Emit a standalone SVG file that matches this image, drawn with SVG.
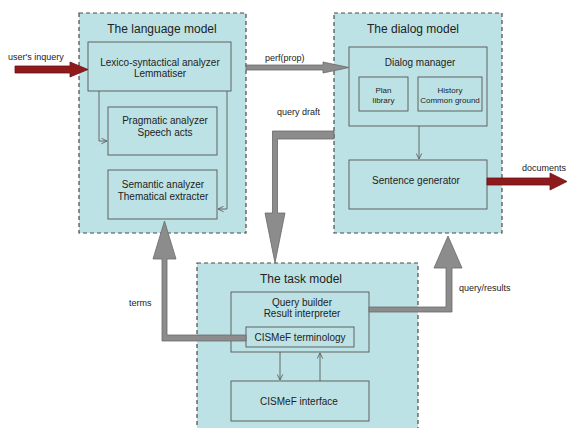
<svg xmlns="http://www.w3.org/2000/svg" width="569" height="428" viewBox="0 0 569 428">
<defs>
<style>
.model{fill:#bde2e5;stroke:#4a4a4a;stroke-width:1.2;stroke-dasharray:4 3}
.box{fill:#bde2e5;stroke:#555;stroke-width:0.9}
text{font-family:"Liberation Sans",Arial,sans-serif;fill:#222}
.title{font-size:12px;text-anchor:middle}
.lbl{font-size:10px;text-anchor:middle}
.sm{font-size:8px;text-anchor:middle}
.note{font-size:9px}
.thin{fill:none;stroke:#5a5a5a;stroke-width:0.9}
.gray{fill:#8c8c8c;stroke:#6a6a6a;stroke-width:0.8}
.red{fill:#8e1a1c;stroke:#6e1214;stroke-width:0.8}
</style>
<marker id="open" viewBox="0 0 10 10" refX="9" refY="5" markerWidth="7" markerHeight="7" orient="auto" markerUnits="userSpaceOnUse">
<path d="M1,1 L9,5 L1,9" fill="none" stroke="#5a5a5a" stroke-width="1.2"/>
</marker>
</defs>
<rect width="569" height="428" fill="#ffffff"/>

<g id="language-model">
<rect class="model" x="79" y="13" width="167" height="220"/>
<text class="title" x="162" y="33">The language model</text>
</g>
<g id="lexico">
<rect class="box" x="88" y="42" width="143" height="49"/>
<text class="lbl" x="160" y="65.5">Lexico-syntactical analyzer</text>
<text class="lbl" x="160" y="76.5">Lemmatiser</text>
</g>
<g id="pragmatic">
<rect class="box" x="108" y="107" width="109" height="48"/>
<text class="lbl" x="165" y="123.5">Pragmatic analyzer</text>
<text class="lbl" x="165" y="135.5">Speech acts</text>
</g>
<g id="semantic">
<rect class="box" x="108" y="170" width="109" height="49"/>
<text class="lbl" x="163" y="187.5">Semantic analyzer</text>
<text class="lbl" x="163" y="199.5">Thematical extracter</text>
</g>

<g id="dialog-model">
<rect class="model" x="334" y="13" width="168" height="220"/>
<text class="title" x="413" y="33">The dialog model</text>
</g>
<g id="dialog-manager">
<rect class="box" x="349" y="47" width="138" height="79"/>
<text class="lbl" x="420" y="65.5">Dialog manager</text>
</g>
<g id="plan-library">
<rect class="box" x="359" y="77" width="49" height="34"/>
<text class="sm" x="383.5" y="93">Plan</text>
<text class="sm" x="383.5" y="103">library</text>
</g>
<g id="history">
<rect class="box" x="418" y="77" width="64" height="34"/>
<text class="sm" x="450" y="93">History</text>
<text class="sm" x="450" y="103">Common ground</text>
</g>
<g id="sentence-generator">
<rect class="box" x="349" y="160" width="138" height="49"/>
<text class="lbl" x="416" y="183.5">Sentence generator</text>
</g>

<g id="task-model">
<rect class="model" x="197" y="263" width="221" height="175"/>
<text class="title" x="301" y="283">The task model</text>
</g>
<g id="query-builder">
<rect class="box" x="231" y="292" width="138" height="60"/>
<text class="lbl" x="302" y="305.5">Query builder</text>
<text class="lbl" x="302" y="316.5">Result interpreter</text>
</g>
<g id="cismef-terminology">
<rect class="box" x="246" y="327" width="108" height="20"/>
<text class="lbl" x="300" y="340.5">CISMeF terminology</text>
</g>
<g id="cismef-interface">
<rect class="box" x="231" y="381" width="138" height="40"/>
<text class="lbl" x="299" y="404.5">CISMeF interface</text>
</g>

<g id="connectors">
<path class="thin" d="M99,91 V141 H107" marker-end="url(#open)"/>
<path class="thin" d="M227,91 V209 H218" marker-end="url(#open)"/>
<path class="thin" d="M419,126 V159" marker-end="url(#open)"/>
<path class="thin" d="M280,352 V380" marker-end="url(#open)"/>
<path class="thin" d="M320,381 V353" marker-end="url(#open)"/>

<polygon class="red" points="15,66 70,66 70,62 88,69.5 70,77 70,73 15,73"/>
<polygon class="gray" points="246,65 323,65 323,62 349,67.5 323,73 323,70 246,70"/>
<polygon class="gray" points="334,131 334,139 277.5,139 277.5,213 285,213 275,263 265,213 272.5,213 272.5,131"/>
<polygon class="gray" points="246,335 246,341 162,341 162,259 153,259 164.5,221 176,259 167,259 167,335"/>
<polygon class="gray" points="369,307 446,307 446,268 434,268 448,236 462,268 452,268 452,312 369,312"/>
<polygon class="red" points="487,178 550,178 550,173 567,181.5 550,190 550,185 487,185"/>

<text class="note" x="8" y="60">user's inquery</text>
<text class="note" x="265" y="61">perf(prop)</text>
<text class="note" x="277" y="115">query draft</text>
<text class="note" x="522" y="171">documents</text>
<text class="note" x="129" y="306">terms</text>
<text class="note" x="459" y="291">query/results</text>
</g>
</svg>
